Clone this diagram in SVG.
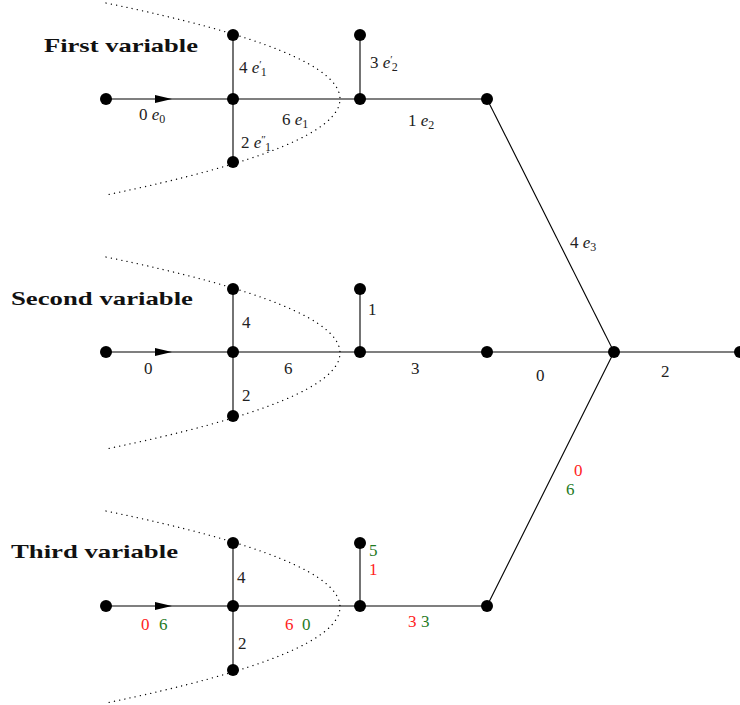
<svg xmlns="http://www.w3.org/2000/svg" width="740" height="705" viewBox="0 0 740 705">
<defs>
<style>
.e{stroke:#000;stroke-width:1.1;fill:none}
.dot{fill:none;stroke:#000;stroke-width:1.3;stroke-dasharray:0.1 5.2;stroke-linecap:round}
.n{fill:#000}
.t{font-family:"Liberation Serif","DejaVu Serif",serif;font-size:17px;fill:#222}
.h{font-family:"Liberation Serif","DejaVu Serif",serif;font-size:19px;font-weight:bold;fill:#111}
.i{font-style:italic}
.s{font-size:12px}
.p{font-size:11px}
.r{fill:#ff2222}
.g{fill:#1f7a1f}
</style>
<marker id="arr" viewBox="0 0 17 8" refX="17" refY="4" markerWidth="17" markerHeight="8" markerUnits="userSpaceOnUse" orient="auto">
<path d="M0,0 L17,4 L0,8 Z" fill="#000"/>
</marker>
<path id="parab" d="M106,3 Q574,99 106,195"/>
</defs>
<rect width="740" height="705" fill="#fff"/>

<g id="connectors">
<line class="e" x1="106" y1="99" x2="172" y2="99" marker-end="url(#arr)"/>
<line class="e" x1="172" y1="99" x2="487" y2="99"/>
<line class="e" x1="233" y1="35" x2="233" y2="162"/>
<line class="e" x1="360" y1="35" x2="360" y2="99"/>
<line class="e" x1="487" y1="99" x2="614" y2="352"/>
<line class="e" x1="106" y1="352" x2="172" y2="352" marker-end="url(#arr)"/>
<line class="e" x1="172" y1="352" x2="740" y2="352"/>
<line class="e" x1="233" y1="289" x2="233" y2="416"/>
<line class="e" x1="360" y1="289" x2="360" y2="352"/>
<line class="e" x1="106" y1="606" x2="172" y2="606" marker-end="url(#arr)"/>
<line class="e" x1="172" y1="606" x2="487" y2="606"/>
<line class="e" x1="233" y1="543" x2="233" y2="670"/>
<line class="e" x1="360" y1="543" x2="360" y2="606"/>
<line class="e" x1="487" y1="606" x2="614" y2="352"/>
</g>

<g id="cuts">
<use href="#parab" class="dot"/>
<use href="#parab" class="dot" transform="translate(0,254)"/>
<use href="#parab" class="dot" transform="translate(0,508)"/>
</g>

<g id="first-variable">
<text class="h" x="44" y="52" textLength="154" lengthAdjust="spacingAndGlyphs">First variable</text>
<circle class="n" cx="106" cy="99" r="6"/>
<circle class="n" cx="233" cy="99" r="6"/>
<circle class="n" cx="233" cy="35" r="6"/>
<circle class="n" cx="233" cy="162" r="6"/>
<circle class="n" cx="360" cy="99" r="6"/>
<circle class="n" cx="360" cy="35" r="6"/>
<circle class="n" cx="487" cy="99" r="6"/>
<text class="t" x="139" y="120">0 <tspan class="i">e</tspan><tspan class="s" dy="3">0</tspan></text>
<text class="t" x="282" y="125">6 <tspan class="i">e</tspan><tspan class="s" dy="3">1</tspan></text>
<text class="t" x="239" y="73">4 <tspan class="i">e</tspan><tspan class="p" dy="-5">′</tspan><tspan class="s" dx="-1" dy="8">1</tspan></text>
<text class="t" x="241" y="148">2 <tspan class="i">e</tspan><tspan class="p" dy="-5">″</tspan><tspan class="s" dx="-1" dy="8">1</tspan></text>
<text class="t" x="370" y="68">3 <tspan class="i">e</tspan><tspan class="p" dy="-5">′</tspan><tspan class="s" dx="-1" dy="8">2</tspan></text>
<text class="t" x="408" y="126">1 <tspan class="i">e</tspan><tspan class="s" dy="3">2</tspan></text>
<text class="t" x="570" y="248">4 <tspan class="i">e</tspan><tspan class="s" dy="3">3</tspan></text>
</g>

<g id="second-variable">
<text class="h" x="11" y="305" textLength="182" lengthAdjust="spacingAndGlyphs">Second variable</text>
<circle class="n" cx="106" cy="352" r="6"/>
<circle class="n" cx="233" cy="352" r="6"/>
<circle class="n" cx="233" cy="289" r="6"/>
<circle class="n" cx="233" cy="416" r="6"/>
<circle class="n" cx="360" cy="352" r="6"/>
<circle class="n" cx="360" cy="289" r="6"/>
<circle class="n" cx="487" cy="352" r="6"/>
<circle class="n" cx="614" cy="352" r="6"/>
<circle class="n" cx="740" cy="352" r="6"/>
<text class="t" x="144" y="374">0</text>
<text class="t" x="284" y="374">6</text>
<text class="t" x="242" y="328">4</text>
<text class="t" x="242" y="401">2</text>
<text class="t" x="368" y="315">1</text>
<text class="t" x="411" y="374">3</text>
<text class="t" x="536" y="381">0</text>
<text class="t" x="661" y="377">2</text>
</g>

<g id="third-variable">
<text class="h" x="11" y="558" textLength="167" lengthAdjust="spacingAndGlyphs">Third variable</text>
<circle class="n" cx="106" cy="606" r="6"/>
<circle class="n" cx="233" cy="606" r="6"/>
<circle class="n" cx="233" cy="543" r="6"/>
<circle class="n" cx="233" cy="670" r="6"/>
<circle class="n" cx="360" cy="606" r="6"/>
<circle class="n" cx="360" cy="543" r="6"/>
<circle class="n" cx="487" cy="606" r="6"/>
<text class="t r" x="141" y="630">0</text>
<text class="t g" x="159" y="630">6</text>
<text class="t r" x="285" y="630">6</text>
<text class="t g" x="302" y="630">0</text>
<text class="t" x="237" y="583">4</text>
<text class="t" x="238" y="649">2</text>
<text class="t g" x="369" y="556" font-size="16">5</text>
<text class="t r" x="369" y="575" font-size="16">1</text>
<text class="t r" x="408" y="627">3</text>
<text class="t g" x="421" y="627">3</text>
<text class="t r" x="574" y="476">0</text>
<text class="t g" x="566" y="495">6</text>
</g>
</svg>
